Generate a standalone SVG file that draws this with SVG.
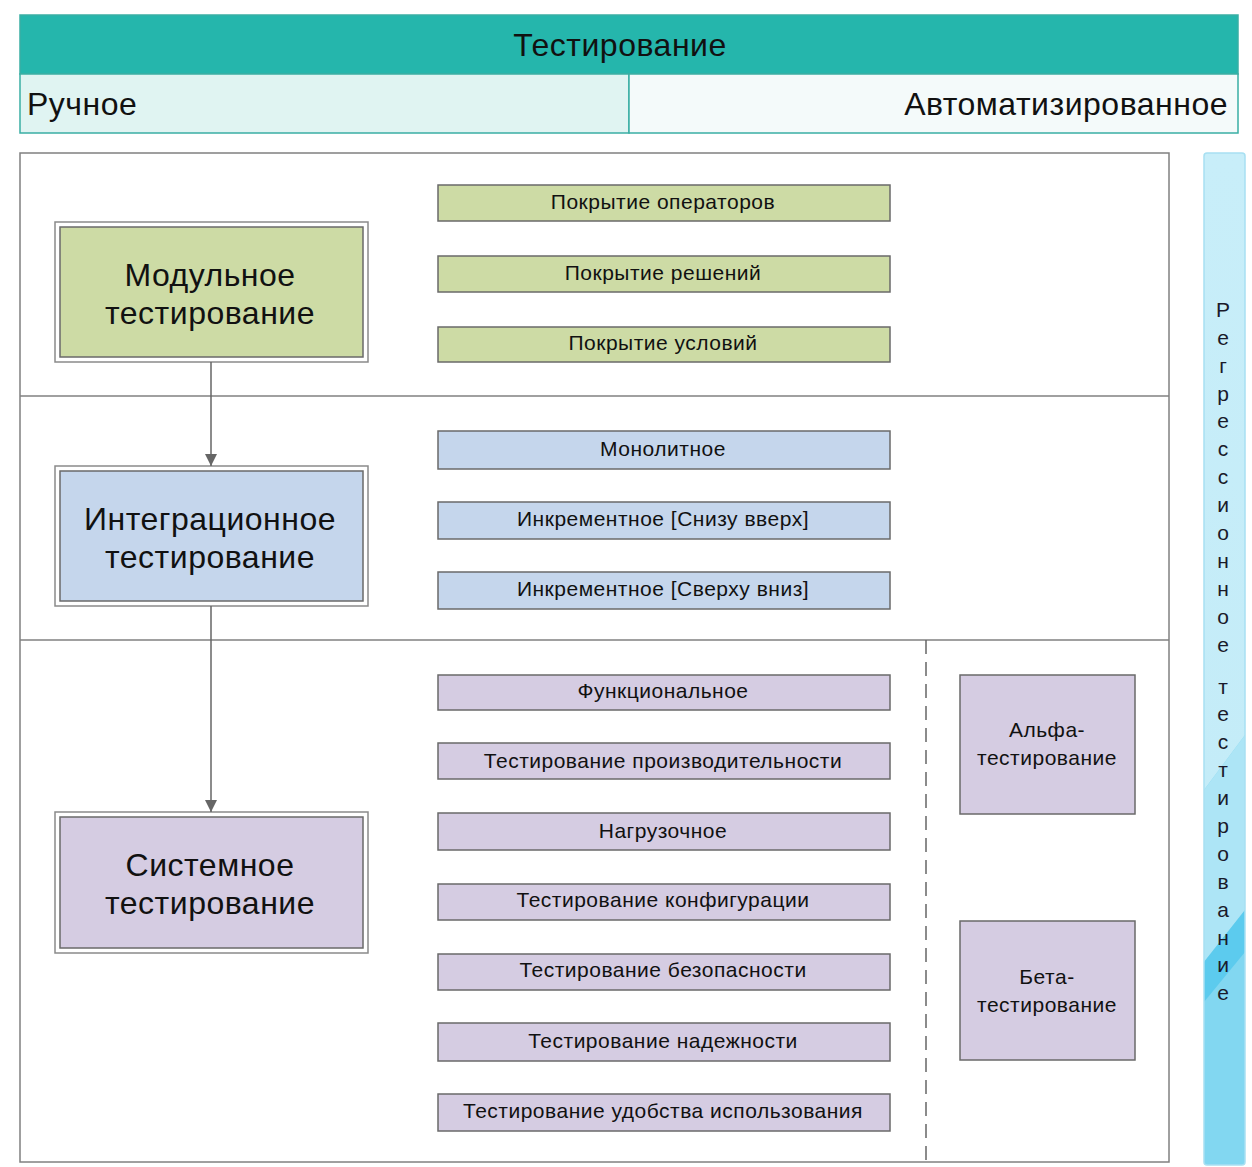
<svg xmlns="http://www.w3.org/2000/svg" width="1252" height="1167" viewBox="0 0 1252 1167">
<defs>
<style>
text{font-family:"Liberation Sans",Arial,sans-serif;fill:#111;}
.big{font-size:32px;letter-spacing:0.5px;}
.mid{font-size:21px;letter-spacing:0.5px;text-anchor:middle;}
.lg{font-size:32px;letter-spacing:0.5px;text-anchor:middle;}
.outer{fill:#fff;stroke:#8a8a8a;stroke-width:1.5;}
.inner{stroke:#6a6a6a;stroke-width:1.5;}
.g{fill:#cddba5;}
.b{fill:#c5d6ec;}
.p{fill:#d5cce2;}
.sm{stroke:#6a6a6a;stroke-width:1.5;}
.line{stroke:#808080;stroke-width:1.5;fill:none;}
.conn{stroke:#666;stroke-width:1.5;fill:none;}
.rl{font-size:21px;text-anchor:middle;fill:#1a1a2a;}
</style>
<marker id="arr" viewBox="0 0 12 12" refX="12" refY="6" markerWidth="12" markerHeight="12" markerUnits="userSpaceOnUse" orient="auto">
<path d="M0,0 L12,6 L0,12 Z" fill="#666"/>
</marker>
<linearGradient id="rg" x1="0" y1="0" x2="0" y2="1">
<stop offset="0" stop-color="#c8eef9"/>
<stop offset="1" stop-color="#c4ecf8"/>
</linearGradient>
<clipPath id="rc"><rect x="1204" y="153" width="41" height="1012" rx="3"/></clipPath>
</defs>

<g id="header">
<rect x="20" y="15" width="1218" height="59" fill="#25b6ac" stroke="#3aaea4" stroke-width="1.5"/>
<text x="620" y="56" class="big" text-anchor="middle">Тестирование</text>
<rect x="20" y="74" width="609" height="59" fill="#e0f4f2" stroke="#3aaea4" stroke-width="1.5"/>
<rect x="629" y="74" width="609" height="59" fill="#f4fafa" stroke="#3aaea4" stroke-width="1.5"/>
<text x="27" y="115" class="big">Ручное</text>
<text x="1228" y="115" class="big" text-anchor="end">Автоматизированное</text>
</g>

<g id="frame">
<rect x="20" y="153" width="1149" height="1009" class="line"/>
<line x1="20" y1="396" x2="1169" y2="396" class="line"/>
<line x1="20" y1="640" x2="1169" y2="640" class="line"/>
<line x1="926" y1="640" x2="926" y2="1162" stroke="#666" stroke-width="1.5" stroke-dasharray="14,8"/>
</g>

<g id="regression">
<g clip-path="url(#rc)">
<rect x="1204" y="153" width="41" height="1012" fill="#82d7f1"/>
<polygon points="1204,153 1245,153 1245,735 1204,790" fill="url(#rg)"/>
<polygon points="1204,790 1245,735 1245,910 1204,962" fill="#ade5f6"/>
<polygon points="1204,962 1245,910 1245,952 1204,1002" fill="#5ccbee"/>
</g>
<rect x="1204" y="153" width="41" height="1012" rx="3" fill="none" stroke="#a8e0f2" stroke-width="1.5"/>
<text class="rl"><tspan x="1223" y="317">Р</tspan><tspan x="1223" y="345">е</tspan><tspan x="1223" y="373">г</tspan><tspan x="1223" y="401">р</tspan><tspan x="1223" y="428">е</tspan><tspan x="1223" y="456">с</tspan><tspan x="1223" y="484">с</tspan><tspan x="1223" y="512">и</tspan><tspan x="1223" y="540">о</tspan><tspan x="1223" y="568">н</tspan><tspan x="1223" y="596">н</tspan><tspan x="1223" y="624">о</tspan><tspan x="1223" y="652">е</tspan><tspan x="1223" y="694">т</tspan><tspan x="1223" y="721">е</tspan><tspan x="1223" y="749">с</tspan><tspan x="1223" y="777">т</tspan><tspan x="1223" y="805">и</tspan><tspan x="1223" y="833">р</tspan><tspan x="1223" y="861">о</tspan><tspan x="1223" y="889">в</tspan><tspan x="1223" y="917">а</tspan><tspan x="1223" y="945">н</tspan><tspan x="1223" y="972">и</tspan><tspan x="1223" y="1000">е</tspan></text>
</g>

<g id="modular">
<rect x="55" y="222" width="313" height="140" class="outer"/>
<rect x="60" y="227" width="303" height="130" class="inner g"/>
<text x="210" y="286" class="lg">Модульное</text>
<text x="210" y="324" class="lg">тестирование</text>
</g>
<g id="integration">
<rect x="55" y="466" width="313" height="140" class="outer"/>
<rect x="60" y="471" width="303" height="130" class="inner b"/>
<text x="210" y="530" class="lg">Интеграционное</text>
<text x="210" y="568" class="lg">тестирование</text>
</g>
<g id="system">
<rect x="55" y="812" width="313" height="141" class="outer"/>
<rect x="60" y="817" width="303" height="131" class="inner p"/>
<text x="210" y="876" class="lg">Системное</text>
<text x="210" y="914" class="lg">тестирование</text>
</g>

<g id="connectors">
<line x1="211" y1="362" x2="211" y2="466" class="conn" marker-end="url(#arr)"/>
<line x1="211" y1="606" x2="211" y2="812" class="conn" marker-end="url(#arr)"/>
</g>

<g id="op"><rect x="438" y="185" width="452" height="36" class="sm g"/><text x="663" y="209" class="mid">Покрытие операторов</text></g>
<g id="dec"><rect x="438" y="256" width="452" height="36" class="sm g"/><text x="663" y="280" class="mid">Покрытие решений</text></g>
<g id="cond"><rect x="438" y="327" width="452" height="35" class="sm g"/><text x="663" y="350" class="mid">Покрытие условий</text></g>

<g id="mono"><rect x="438" y="431" width="452" height="38" class="sm b"/><text x="663" y="456" class="mid">Монолитное</text></g>
<g id="inc_up"><rect x="438" y="502" width="452" height="37" class="sm b"/><text x="663" y="526" class="mid">Инкрементное [Снизу вверх]</text></g>
<g id="inc_down"><rect x="438" y="572" width="452" height="37" class="sm b"/><text x="663" y="596" class="mid">Инкрементное [Сверху вниз]</text></g>

<g id="func"><rect x="438" y="675" width="452" height="35" class="sm p"/><text x="663" y="698" class="mid">Функциональное</text></g>
<g id="perf"><rect x="438" y="743" width="452" height="36" class="sm p"/><text x="663" y="768" class="mid">Тестирование производительности</text></g>
<g id="load"><rect x="438" y="813" width="452" height="37" class="sm p"/><text x="663" y="838" class="mid">Нагрузочное</text></g>
<g id="conf"><rect x="438" y="884" width="452" height="36" class="sm p"/><text x="663" y="907" class="mid">Тестирование конфигурации</text></g>
<g id="sec"><rect x="438" y="954" width="452" height="36" class="sm p"/><text x="663" y="977" class="mid">Тестирование безопасности</text></g>
<g id="rel"><rect x="438" y="1023" width="452" height="38" class="sm p"/><text x="663" y="1048" class="mid">Тестирование надежности</text></g>
<g id="usab"><rect x="438" y="1094" width="452" height="37" class="sm p"/><text x="663" y="1118" class="mid">Тестирование удобства использования</text></g>

<g id="alpha"><rect x="960" y="675" width="175" height="139" class="sm p"/><text x="1047" y="737" class="mid">Альфа-</text><text x="1047" y="765" class="mid">тестирование</text></g>
<g id="beta"><rect x="960" y="921" width="175" height="139" class="sm p"/><text x="1047" y="984" class="mid">Бета-</text><text x="1047" y="1012" class="mid">тестирование</text></g>
</svg>
